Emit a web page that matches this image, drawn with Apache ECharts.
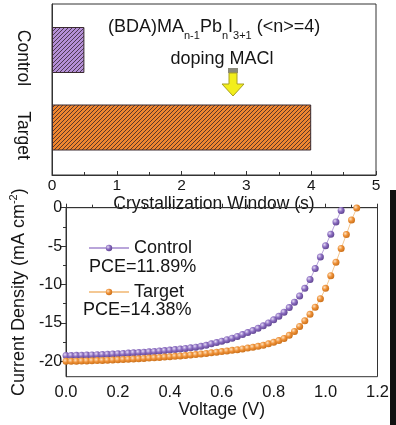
<!DOCTYPE html>
<html>
<head>
<meta charset="utf-8">
<script src="https://cdn.jsdelivr.net/npm/echarts@6/dist/echarts.min.js"></script>
<style>html,body{margin:0;padding:0;background:#fff;}#c{width:396px;height:425px;}</style>
</head>
<body>
<div id="c"></div>
<script>
// ---- data ----
const categories = ['Control', 'Target'];
const windowValues = [0.5, 4.0];          // crystallization window (s)
const xTicksTop = [0, 1, 2, 3, 4, 5];
const voltage = [0.00,0.02,0.04,0.06,0.08,0.10,0.12,0.14,0.16,0.18,0.20,0.22,0.24,0.26,0.28,0.30,0.32,0.34,0.36,0.38,0.40,0.42,0.44,0.46,0.48,0.50,0.52,0.54,0.56,0.58,0.60,0.62,0.64,0.66,0.68,0.70,0.72,0.74,0.76,0.78,0.80,0.82,0.84,0.86,0.88,0.90,0.92,0.94,0.96,0.98,1.00,1.02,1.04,1.06,1.08,1.10,1.12];
const controlJ = [-19.25,-19.24,-19.22,-19.20,-19.18,-19.16,-19.13,-19.10,-19.07,-19.04,-19.00,-18.97,-18.93,-18.89,-18.85,-18.81,-18.76,-18.71,-18.66,-18.60,-18.54,-18.47,-18.40,-18.32,-18.24,-18.15,-18.04,-17.92,-17.72,-17.55,-17.37,-17.18,-16.98,-16.76,-16.52,-16.26,-16.00,-15.70,-15.38,-15.00,-14.60,-14.13,-13.60,-13.00,-12.30,-11.50,-10.50,-9.35,-7.92,-6.42,-4.95,-3.45,-1.85,-0.35];
const targetJ = [-20.00,-19.99,-19.98,-19.96,-19.94,-19.92,-19.90,-19.88,-19.85,-19.82,-19.79,-19.76,-19.73,-19.70,-19.66,-19.62,-19.58,-19.54,-19.50,-19.45,-19.40,-19.35,-19.30,-19.24,-19.18,-19.12,-19.05,-18.97,-18.89,-18.81,-18.73,-18.65,-18.57,-18.48,-18.38,-18.28,-18.17,-18.05,-17.90,-17.72,-17.52,-17.30,-17.02,-16.62,-16.10,-15.45,-14.72,-13.88,-12.95,-11.85,-10.50,-8.85,-7.10,-5.30,-3.50,-1.60,-0.05];
const yTicksJ = [0, -5, -10, -15, -20];
const yMinorJ = [-2.5, -7.5, -12.5, -17.5];
const pceLabels = ['PCE=11.89%', 'PCE=14.38%'];

// ---- styles ----
const FONT = '"Liberation Sans", Arial, sans-serif';
const TXT = '#151515';
const AX = '#333';
const barFill = ['#b48fd6', '#ef8630'];

function hatch(bg) {
  const s = 4;
  const c = document.createElement('canvas');
  c.width = s; c.height = s;
  const g = c.getContext('2d');
  g.fillStyle = bg; g.fillRect(0, 0, s, s);
  g.strokeStyle = 'rgba(45,30,40,0.85)';
  g.lineWidth = 0.9;
  g.beginPath();
  g.moveTo(0, s); g.lineTo(s, 0);
  g.moveTo(-1, 1); g.lineTo(1, -1);
  g.moveTo(s - 1, s + 1); g.lineTo(s + 1, s - 1);
  g.stroke();
  return c;
}
function ball(light, mid, dark) {
  return {type: 'radial', x: 0.35, y: 0.35, r: 0.75,
    colorStops: [{offset: 0, color: light}, {offset: 0.45, color: mid}, {offset: 1, color: dark}]};
}

const chart = echarts.init(document.getElementById('c'), null, {renderer: 'canvas'});
const option = {
  animation: false,
  backgroundColor: '#fff',
  textStyle: {fontFamily: FONT},
  grid: [
    {left: 52, right: 20, top: 11.25, bottom: 258.75},
    {left: 52, right: 20, top: 4, bottom: 250, show: true, borderColor: AX, borderWidth: 1, backgroundColor: 'transparent'},
    {left: 54.5, right: 18.5, top: 207.7, bottom: 48.3, show: true, borderColor: AX, borderWidth: 1, backgroundColor: 'transparent'}
  ],
  xAxis: [
    {gridIndex: 0, type: 'value', min: 0, max: 5, show: false},
    {gridIndex: 1, type: 'value', min: xTicksTop[0], max: xTicksTop[xTicksTop.length - 1], interval: 1,
      axisLine: {lineStyle: {color: AX}}, axisTick: {inside: true, length: 4, lineStyle: {color: AX}},
      minorTick: {show: true, splitNumber: 2, length: 3, lineStyle: {color: AX}},
      splitLine: {show: false},
      axisLabel: {fontSize: 15.5, color: TXT, margin: 3, fontFamily: FONT},
      name: 'Crystallization Window (s)', nameLocation: 'middle', nameGap: 11,
      nameTextStyle: {fontSize: 17.5, color: TXT, fontFamily: FONT}},
    {gridIndex: 2, type: 'value', min: 0, max: 1.2, interval: 0.2,
      axisLine: {lineStyle: {color: AX}}, axisTick: {inside: true, length: 4, lineStyle: {color: AX}},
      minorTick: {show: true, splitNumber: 2, length: 3, lineStyle: {color: AX}},
      splitLine: {show: false},
      axisLabel: {fontSize: 16.5, color: TXT, margin: 7, fontFamily: FONT, formatter: v => v.toFixed(1)},
      name: 'Voltage (V)', nameLocation: 'middle', nameGap: 24,
      nameTextStyle: {fontSize: 17.5, color: TXT, fontFamily: FONT}}
  ],
  yAxis: [
    {gridIndex: 0, type: 'category', data: categories, inverse: true, position: 'left',
      axisLine: {show: false}, axisTick: {length: 3, lineStyle: {color: AX}},
      axisLabel: {rotate: -90, fontSize: 17.5, color: TXT, margin: 20, fontFamily: FONT, padding: [0, 0, 0, 16]}},
    {gridIndex: 0, type: 'category', data: categories, inverse: true, position: 'left', offset: 0,
      axisLine: {show: false}, axisTick: {alignWithLabel: true, length: 5, lineStyle: {color: AX}},
      axisLabel: {show: false}},
    {gridIndex: 1, type: 'value', min: 0, max: 1, position: 'left',
      axisLine: {show: true, lineStyle: {color: AX}}, axisTick: {show: false}, axisLabel: {show: false}, splitLine: {show: false}},
    {gridIndex: 2, type: 'value', min: -22, max: 0, position: 'left',
      axisLine: {show: true, lineStyle: {color: AX}},
      axisTick: {length: 5, lineStyle: {color: AX}, customValues: yTicksJ},
      axisLabel: {fontSize: 16, color: TXT, margin: 4, fontFamily: FONT, customValues: yTicksJ},
      splitLine: {show: false},
      name: '{a|Current Density (mA cm}{s|-2}{a|)}', nameLocation: 'middle', nameGap: 29, nameRotate: 90,
      nameTextStyle: {rich: {
        a: {fontSize: 18, color: TXT, fontFamily: FONT, lineHeight: 22},
        s: {fontSize: 11, color: TXT, fontFamily: FONT, lineHeight: 11, verticalAlign: 'top'}
      }}},
    {gridIndex: 2, type: 'value', min: -22, max: 0, position: 'left', offset: 0,
      axisLine: {show: false},
      axisTick: {length: 3, lineStyle: {color: AX}, customValues: yMinorJ},
      axisLabel: {show: false}, splitLine: {show: false}}
  ],
  legend: [
    {data: ['Control'], left: 83, top: 234, itemWidth: 40, itemHeight: 8, itemGap: 5,
      textStyle: {fontSize: 18, color: TXT, fontFamily: FONT}},
    {data: ['Target'], left: 83, top: 278, itemWidth: 40, itemHeight: 8, itemGap: 5,
      textStyle: {fontSize: 18, color: TXT, fontFamily: FONT}}
  ],
  series: [
    {type: 'bar', xAxisIndex: 0, yAxisIndex: 0, barWidth: 46, silent: true,
      data: windowValues.map((v, i) => ({value: v, itemStyle: {
        color: {image: hatch(barFill[i]), repeat: 'repeat'}, borderColor: '#3a2a30', borderWidth: 1}}))},
    {name: 'Control', type: 'line', xAxisIndex: 2, yAxisIndex: 3,
      data: controlJ.map((j, i) => [voltage[i], j]),
      symbol: 'circle', symbolSize: 7, showAllSymbol: true,
      lineStyle: {color: '#b9a5da', width: 1},
      itemStyle: {color: ball('#e6dcf5', '#8a6cc0', '#5a3f8a')}},
    {name: 'Target', type: 'line', xAxisIndex: 2, yAxisIndex: 3,
      data: targetJ.map((j, i) => [voltage[i], j]),
      symbol: 'circle', symbolSize: 7, showAllSymbol: true,
      lineStyle: {color: '#f4c894', width: 1},
      itemStyle: {color: ball('#fde2c0', '#ee9036', '#c46a14')}}
  ],
  graphic: [
    {type: 'text', x: 108, y: 27, style: {
      text: '{a|(BDA)MA}{s|n-1}{a|Pb}{s|n}{a|I}{s|3+1}{a| (<n>=4)}',
      verticalAlign: 'middle',
      rich: {
        a: {fontSize: 18, fill: TXT, fontFamily: FONT, lineHeight: 28},
        s: {fontSize: 11, fill: TXT, fontFamily: FONT, lineHeight: 11, verticalAlign: 'bottom'}
      }}},
    {type: 'text', x: 222, y: 59, style: {text: 'doping MACl', fontSize: 18, fill: TXT, fontFamily: FONT, align: 'center', verticalAlign: 'middle'}},
    {type: 'rect', shape: {x: 228, y: 68, width: 10, height: 5}, style: {fill: '#8a8a7a'}},
    {type: 'polygon', shape: {points: [[229, 73], [237, 73], [237, 84], [244, 84], [233, 96], [222, 84], [229, 84]]},
      style: {fill: '#f2ee1c', stroke: '#a8a020', lineWidth: 1}},
    {type: 'text', x: 89, y: 267, style: {text: pceLabels[0], fontSize: 18, fill: TXT, fontFamily: FONT, verticalAlign: 'middle'}},
    {type: 'text', x: 83, y: 310, style: {text: pceLabels[1], fontSize: 18, fill: TXT, fontFamily: FONT, verticalAlign: 'middle'}},
    {type: 'rect', shape: {x: 390, y: 190, width: 6, height: 235}, style: {fill: '#111'}}
  ]
};
chart.setOption(option);
</script>
</body>
</html>
